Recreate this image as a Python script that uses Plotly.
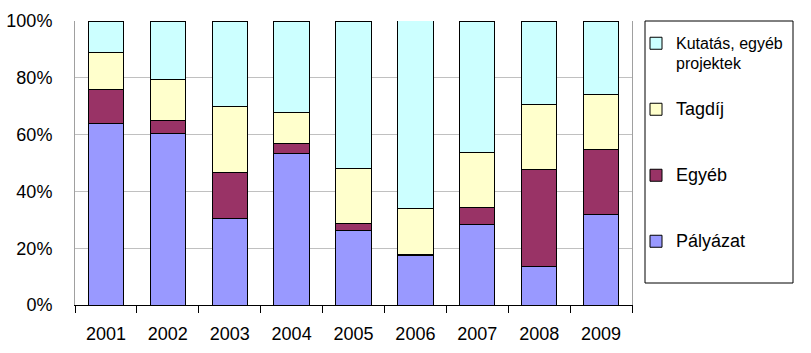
import plotly.graph_objects as go

years = ["2001", "2002", "2003", "2004", "2005", "2006", "2007", "2008", "2009"]
palyazat = [64.0, 60.4, 30.5, 53.4, 26.4, 17.4, 28.4, 13.6, 31.9]
egyeb = [12.0, 4.6, 16.2, 3.5, 2.4, 0.4, 6.0, 34.2, 22.9]
tagdij = [13.0, 14.5, 23.3, 10.9, 19.3, 16.1, 19.4, 22.9, 19.4]
kutatas = [11.0, 20.5, 30.0, 32.2, 51.9, 66.3, 46.2, 29.3, 25.8]
y_ticks = [0, 20, 40, 60, 80, 100]
y_tick_labels = ["0%", "20%", "40%", "60%", "80%", "100%"]

series = [
    ("<span style='font-size:18px'>Pályázat</span><br> ", palyazat, "#9999FF", 4),
    ("<span style='font-size:18px'>Egyéb</span><br> ", egyeb, "#993366", 3),
    ("<span style='font-size:18px'>Tagdíj</span><br> ", tagdij, "#FFFFCC", 2),
    ("<span style='font-size:16px'>Kutatás, egyéb</span><br><span style='font-size:16px'>projektek</span>",
     kutatas, "#CCFFFF", 1),
]

fig = go.Figure()
for i, (name, vals, col, rank) in enumerate(series):
    fig.add_trace(go.Bar(
        x=years, y=vals, name=name, legendgroup=str(i), legendrank=rank,
        marker=dict(color=col, line=dict(color="black", width=1)),
    ))

# legend frame (pixel -> paper conversion from plot area 75..632 x 21..305)
fig.add_shape(
    type="rect", xref="paper", yref="paper",
    x0=(645 - 75) / 557, x1=(793 - 75) / 557,
    y0=(305 - 283) / 284, y1=(305 - 21) / 284,
    line=dict(color="black", width=1), fillcolor="rgba(0,0,0,0)", layer="below",
)

fig.update_layout(
    barmode="stack",
    bargap=0.43,
    width=811, height=353,
    margin=dict(l=75, r=179, t=21, b=48, autoexpand=False),
    paper_bgcolor="white", plot_bgcolor="white",
    font=dict(family="Liberation Sans, Arial, sans-serif", size=18, color="black"),
    showlegend=True,
    legend=dict(
        x=(636 - 75) / 557, xanchor="left", y=(305 - 27) / 284, yanchor="top",
        traceorder="grouped", tracegroupgap=24, valign="top",
        bgcolor="rgba(0,0,0,0)", borderwidth=0,
        font=dict(size=15),
        itemclick=False,
    ),
    xaxis=dict(
        showline=True, linecolor="black", linewidth=1,
        ticks="outside", tickson="boundaries", ticklen=7, tickcolor="black",
        showgrid=False, ticklabelstandoff=12, automargin=False,
    ),
    yaxis=dict(
        range=[0, 100], tickmode="array", tickvals=y_ticks, ticktext=y_tick_labels,
        showgrid=True, gridcolor="#C0C0C0", gridwidth=1,
        showline=True, linecolor="#A0A0A0", mirror=True,
        ticklabelstandoff=18, zeroline=False, automargin=False,
    ),
)

fig.write_html("out.html")
